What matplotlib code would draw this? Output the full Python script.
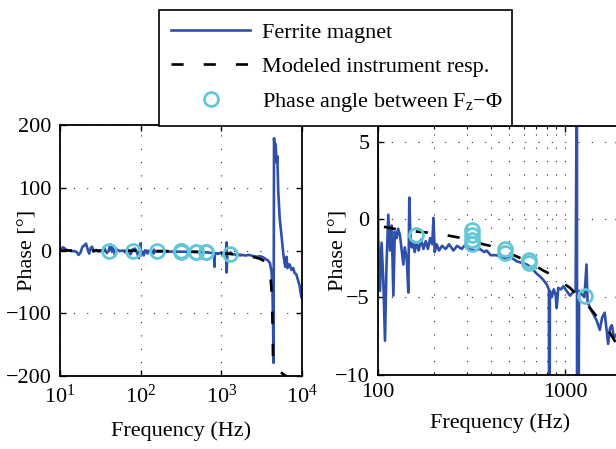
import numpy as np
import matplotlib
matplotlib.use("Agg")
import matplotlib.pyplot as plt
from matplotlib.lines import Line2D
from matplotlib.ticker import LogFormatterMathtext, NullFormatter, LogLocator

plt.rcParams['font.family'] = ['Liberation Serif', 'DejaVu Serif']
plt.rcParams['mathtext.fontset'] = 'custom'
plt.rcParams['mathtext.rm'] = 'Liberation Serif'
plt.rcParams['mathtext.it'] = 'Liberation Serif:italic'
plt.rcParams['font.size'] = 16

# ------------------------------------------
# DATA
# ------------------------------------------
# measured phase, ferrite magnet [Hz, deg]
meas_f = [10, 11, 12, 13, 14, 15, 16, 17, 18, 19, 20, 21, 22, 23, 24, 25, 26,
          28, 30, 32, 34, 35, 38, 40, 42, 44, 46, 48, 50, 55, 60, 65, 70, 75,
          80, 85, 90, 95, 97, 99,
          100.2, 102.5, 104.5, 106.8, 109, 111, 113.5, 116, 118.4, 120.8, 123,
          125.9, 128, 131, 134, 136.6, 139, 142.4, 145.3, 147, 149, 151.4, 154,
          157, 161, 165, 170, 175, 180, 185, 190, 195, 198, 201, 206, 212, 220,
          230, 240, 253, 265, 280, 295, 310, 330, 350, 370, 381, 400, 431, 467,
          508, 553, 590, 624, 660, 707, 740, 767, 800, 820, 825, 830, 850, 870,
          890, 903, 920, 950, 980, 1020, 1064, 1100, 1140, 1158, 1162, 1190,
          1228, 1270, 1303, 1320, 1360, 1420, 1477, 1535, 1580, 1630, 1700,
          1740, 1780, 1830, 1880, 1950, 2000,
          2200, 2500, 2800, 3000, 3300, 3600, 3800, 4000, 4200, 4300, 4380,
          4440, 4500, 4600, 4700, 4850, 4950, 5070, 5300, 5590, 5860, 6000,
          6200, 6450, 6600, 7000, 7400, 7800, 8100, 8500, 8900, 9300, 9800]
meas_ph = [3, 5, 1, 0, -1, -1, -2, -7, -3, 6, 8, 11, 2, -5, 4, 6, -2,
           1, -2, 0, -3, 5, -4, -1, 9, -2, 6, -8, 2, -1, 0, -3, 1, -6,
           2, 3, -3, -12, -3, 11,
           -1.2, -4.6, -1.5, -4.0, -7.8, -3.0, 0.3, -2.0, -0.4, -4.9, -0.8,
           -1.2, -0.6, -1.0, -2.0, -2.9, -1.8, -2.5, -4.7, 1.4, -1.0, -1.8, -1.4,
           -2.1, -1.5, -2.0, -1.3, -1.9, -1.4, -1.9, -1.2, -1.6, 0.1, -2.1, -1.6, -2.0, -1.7,
           -1.9, -1.6, -2.0, -1.7, -1.9, -1.6, -1.9, -2.0, -1.9, -2.1, -2.0, -2.3, -2.3, -2.5,
           -2.4, -2.7, -2.8, -2.9, -3.1, -3.5, -3.7, -3.9, -4.2, -4.5, -26, -4.6, -5.0, -4.5,
           -4.8, -5.7, -4.4, -4.5, -4.3, -4.6, -4.9, -4.7, -4.6, 13, -35, -4.6,
           -4.8, -5.0, -2.9, -5.3, -5.7, -6.1, -6.5, -7.1, -6.3, -6.0, -8.0,
           -7.0, -6.8, -7.6, -7.4, -7.8, -8.0,
           -7, -9, -10, -9, -11, -14, -16, -20, -35, -60, -120,
           -179, 179, 160, 170, 140, 150, 96, 50, 22, -5, -15,
           -26, -10, -28, -22, -31, -28, -36, -38, -47, -55, -74]

# modeled instrument response
model_f = [10, 20, 50, 100, 121, 150, 206, 280, 366, 397, 508, 650, 767, 800,
           1064, 1303, 1360, 1740, 2000, 2500, 3000, 3300, 3600, 3800, 4000,
           4150, 4250, 4320, 4380, 4450, 5300, 6450]
model_ph = [0, -0.1, -0.2, -0.4, -0.6, -0.75, -0.9, -1.2, -1.6, -1.7, -2.2, -2.75,
            -3.3, -3.4, -4.4, -5.45, -5.7, -7.3, -8.5, -10.5, -13, -16, -20, -25,
            -35, -55, -85, -120, -180, -185, -193, -201]

# phase angle between Fz and Phi
circ_f = [40, 80, 160, 320, 320, 320, 320, 480, 480, 640, 640, 1280]
circ_ph = [-0.3, -0.5, -1.0, -0.7, -1.0, -1.3, -1.6, -1.9, -2.15, -2.6, -2.8, -4.9]

# ------------------------------------------
# STYLE
# ------------------------------------------
blue = '#2F50A8'
cyan = '#62C8D8'
W, H = 616, 449

fig = plt.figure(figsize=(W / 100, H / 100), dpi=100)
ax1 = fig.add_axes([60 / W, 1 - 376 / H, 242 / W, 251 / H])
ax2 = fig.add_axes([378 / W, 1 - 375 / H, 243.3 / W, 249 / H])


def draw(ax):
    ax.plot(meas_f, meas_ph, color=blue, lw=1.9, zorder=2)
    ax.plot(model_f, model_ph, color='black', lw=1.9, dashes=(4.6, 7.6), zorder=3)
    ax.plot(circ_f, circ_ph, 'o', ms=10, mfc='none', mec=cyan, mew=2.0, zorder=4)
    ax.set_xscale('log')
    ax.grid(True, which='both', axis='x', color='0.15', lw=0.8, ls=(0, (1, 11)))
    ax.grid(True, which='major', axis='y', color='0.15', lw=0.8, ls=(0, (1, 11)))
    ax.set_axisbelow(True)
    for s in ax.spines.values():
        s.set_linewidth(1.3)
    ax.tick_params(which='both', direction='in', top=True, right=True, labelsize=16)
    ax.tick_params(which='major', length=4, width=1, pad=6)
    ax.tick_params(which='minor', length=2, width=0.8)
    ax.set_ylabel('Phase [°]', fontsize=16)
    ax.set_xlabel('Frequency (Hz)', fontsize=16)


draw(ax1)
ax1.set_xlim(10, 1e4)
ax1.set_ylim(-200, 200)
ax1.set_yticks([-200, -100, 0, 100, 200])
ax1.xaxis.set_major_locator(LogLocator(base=10, numticks=10))
ax1.xaxis.set_major_formatter(LogFormatterMathtext())
ax1.xaxis.set_minor_formatter(NullFormatter())
ax1.yaxis.set_label_coords(-0.091, 0.5)
ax1.xaxis.set_label_coords(0.5, -0.18)

draw(ax2)
ax2.set_xlim(100, 2000)
ax2.set_ylim(-10, 6)
ax2.set_yticks([-10, -5, 0, 5])
ax2.set_xticks([100, 1000], labels=['100', '1000'])
ax2.xaxis.set_minor_formatter(NullFormatter())
ax2.yaxis.set_label_coords(-0.123, 0.5)
ax2.xaxis.set_label_coords(0.5, -0.155)

handles = [Line2D([], [], color=blue, lw=1.9),
           Line2D([], [], color='black', lw=1.9, dashes=(4.6, 7.6)),
           Line2D([], [], ls='none', marker='o', ms=10, mfc='none', mec=cyan, mew=2.0)]
labels = ['Ferrite magnet', 'Modeled instrument resp.',
          'Phase angle between F$_{\\mathrm{z}}$−Φ']
leg = fig.legend(handles, labels, loc='upper left',
                 bbox_to_anchor=(159 / W, 0, 353 / W, 1 - 10 / H),
                 mode='expand', borderaxespad=0, fancybox=False, framealpha=1,
                 edgecolor='black', fontsize=16, handlelength=3.55,
                 handletextpad=0.55, borderpad=0.55, labelspacing=0.62, numpoints=1)
leg.get_frame().set_linewidth(1.2)

fig.savefig('out.png', dpi=100)
